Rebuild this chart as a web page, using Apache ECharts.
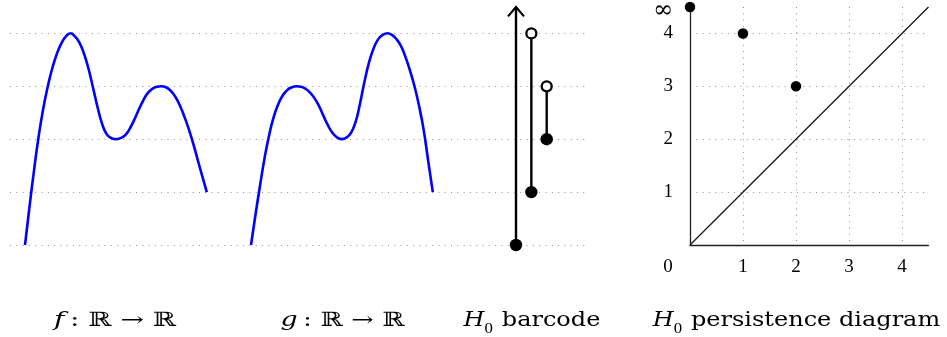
<!DOCTYPE html>
<html>
<head>
<meta charset="utf-8">
<script src="https://cdn.jsdelivr.net/npm/echarts@6/dist/echarts.min.js"></script>
<style>
html,body{margin:0;padding:0;background:#fff;}
#c{width:947px;height:337px;}
</style>
</head>
<body>
<div id="c"></div>
<script>
// ---- data ----
const levels = [0, 1, 2, 3, 4];            // dotted guide levels
const sampleX = [0, 0.1, 0.2, 0.3, 0.4, 0.5, 0.6, 0.7, 0.8, 0.9, 1.0, 1.1, 1.2, 1.3, 1.4, 1.5, 1.6, 1.7, 1.8, 1.9, 2.0,
                 2.1, 2.2, 2.3, 2.4, 2.5, 2.6, 2.7, 2.8, 2.9, 3.0, 3.1, 3.2, 3.3, 3.4, 3.5, 3.6, 3.7, 3.8, 3.9, 4.0];
const fY = [0, 0.73, 1.42, 2.05, 2.57, 2.99, 3.34, 3.61, 3.81, 3.94, 4.0,
            3.94, 3.82, 3.61, 3.32, 2.96, 2.59, 2.28, 2.09, 2.02, 2.0,
            2.02, 2.07, 2.19, 2.36, 2.55, 2.73, 2.87, 2.95, 2.99, 3.0,
            2.98, 2.92, 2.81, 2.65, 2.44, 2.2, 1.92, 1.61, 1.3, 1.0];
const gY = [0, 0.58, 1.13, 1.65, 2.08, 2.42, 2.66, 2.83, 2.93, 2.98, 3.0,
            2.99, 2.95, 2.88, 2.77, 2.62, 2.43, 2.25, 2.11, 2.03, 2.0,
            2.03, 2.12, 2.32, 2.68, 3.1, 3.46, 3.72, 3.89, 3.97, 4.0,
            3.97, 3.89, 3.76, 3.55, 3.29, 2.99, 2.62, 2.17, 1.58, 1.0];
const barIndex = [0, 1, 2];
const barBirth = [0, 1, 2];
const barDeath = [Infinity, 4, 3];
const pdBirth = [0, 1, 2];
const pdDeath = [Infinity, 4, 3];
const pdTicks = [0, 1, 2, 3, 4];
const titles = ['{it|f}\u2009: ℝ → ℝ', '{it|g}\u2009: ℝ → ℝ', '{it|H}{sub|0} barcode', '{it|H}{sub|0} persistence diagram'];
const INF_LEVEL = 4.5;  // where ∞ sits on the level axis

// ---- chart ----
const chart = echarts.init(document.getElementById('c'), null, {renderer: 'canvas'});
const dotted = {color: '#8f8f8f', width: 1, type: [1, 5.3]};
const hiddenAxis = (gi, min, max) => ({gridIndex: gi, type: 'value', min, max, show: false});
const tickFont = {fontFamily: 'Liberation Serif', fontSize: 19, color: '#000'};
const mkGrid = (left, top, width, height) => ({left, top, width, height, containLabel: false, outerBoundsMode: 'none'});

const option = {
  animation: false,
  backgroundColor: '#fff',
  grid: [
    mkGrid(10, 33.3, 575, 211.7),      // guide dotted lines
    mkGrid(25, 33.3, 181.8, 211.7),    // f
    mkGrid(251, 33.3, 181.8, 211.7),   // g
    mkGrid(516, 7, 30.7, 238),         // barcode
    mkGrid(690, 7, 238.5, 238)         // persistence diagram
  ],
  xAxis: [
    hiddenAxis(0, 0, 1),
    hiddenAxis(1, 0, 4),
    hiddenAxis(2, 0, 4),
    hiddenAxis(3, 0, 2),
    {
      gridIndex: 4, type: 'value', min: 0, max: INF_LEVEL, interval: 1,
      axisLine: {show: true, onZero: false, lineStyle: {color: '#222', width: 1.3}},
      axisTick: {show: false},
      axisLabel: {
        show: true, margin: 13, showMinLabel: true, showMaxLabel: false, hideOverlap: false,
        ...tickFont,
        formatter: v => (v === 0 ? '{z|0}' : (pdTicks.includes(v) ? String(v) : '')),
        rich: {z: {...tickFont, padding: [0, 44, 0, 0]}}
      },
      splitLine: {show: true, showMinLine: false, showMaxLine: false, lineStyle: dotted}
    }
  ],
  yAxis: [
    {
      gridIndex: 0, type: 'value', min: 0, max: 4, interval: 1,
      axisLine: {show: false}, axisTick: {show: false}, axisLabel: {show: false},
      splitLine: {show: true, lineStyle: dotted}
    },
    hiddenAxis(1, 0, 4),
    hiddenAxis(2, 0, 4),
    hiddenAxis(3, 0, INF_LEVEL),
    {
      gridIndex: 4, type: 'value', min: 0, max: INF_LEVEL, interval: 1,
      axisLine: {show: true, onZero: false, lineStyle: {color: '#222', width: 1.3}},
      axisTick: {show: false},
      axisLabel: {
        show: true, margin: 17, showMinLabel: true, showMaxLabel: true, hideOverlap: false,
        ...tickFont,
        formatter: v => (v === INF_LEVEL ? '{inf|∞}' : (v !== 0 && pdTicks.includes(v) ? String(v) : '')),
        rich: {inf: {fontFamily: 'DejaVu Serif', fontSize: 24, color: '#000', padding: [7, 0, 0, 0]}}
      },
      splitLine: {show: true, showMinLine: false, showMaxLine: false, lineStyle: dotted}
    }
  ],
  series: [
    {
      type: 'line', xAxisIndex: 1, yAxisIndex: 1, smooth: 0.5, symbol: 'none', clip: false,
      lineStyle: {color: '#0000ff', width: 2.6},
      data: sampleX.map((x, i) => [x, fY[i]])
    },
    {
      type: 'line', xAxisIndex: 2, yAxisIndex: 2, smooth: 0.5, symbol: 'none', clip: false,
      lineStyle: {color: '#0000ff', width: 2.6},
      data: sampleX.map((x, i) => [x, gY[i]])
    },
    {
      type: 'custom', xAxisIndex: 3, yAxisIndex: 3, clip: false,
      data: barIndex.map(i => [i, barBirth[i], isFinite(barDeath[i]) ? barDeath[i] : INF_LEVEL, isFinite(barDeath[i]) ? 0 : 1]),
      renderItem: (params, api) => {
        const x = api.value(0), b = api.value(1), d = api.value(2), inf = api.value(3);
        const p0 = api.coord([x, b]), p1 = api.coord([x, d]);
        const children = [
          {type: 'line', shape: {x1: p0[0], y1: p0[1], x2: p1[0], y2: p1[1]}, style: {stroke: '#000', lineWidth: 2.4}}
        ];
        if (inf) {
          children.push({type: 'polyline', shape: {points: [[p1[0] - 8, p1[1] + 9.4], [p1[0], p1[1]], [p1[0] + 8, p1[1] + 9.4]]},
            style: {stroke: '#000', lineWidth: 2.2, fill: 'none'}});
        } else {
          children.push({type: 'circle', shape: {cx: p1[0], cy: p1[1], r: 5}, style: {fill: '#fff', stroke: '#000', lineWidth: 2.3}});
        }
        children.push({type: 'circle', shape: {cx: p0[0], cy: p0[1], r: 6.2}, style: {fill: '#000'}});
        return {type: 'group', children};
      }
    },
    {
      type: 'line', xAxisIndex: 4, yAxisIndex: 4, symbol: 'none', clip: false,
      lineStyle: {color: '#111', width: 1.2},
      data: [[0, 0], [INF_LEVEL, INF_LEVEL]]
    },
    {
      type: 'scatter', xAxisIndex: 4, yAxisIndex: 4, clip: false, symbol: 'circle', symbolSize: 10.5,
      itemStyle: {color: '#000', opacity: 1}, z: 5,
      data: pdBirth.map((b, i) => [b, isFinite(pdDeath[i]) ? pdDeath[i] : INF_LEVEL])
    }
  ],
  graphic: titles.map((t, i) => ({
    type: 'text',
    x: [115, 342.5, 532, 796.5][i],
    y: 321,
    scaleX: [1.4, 1.34, 1.2, 1.2][i],
    style: {
      text: t,
      font: '20px "DejaVu Serif"',
      fill: '#000',
      align: 'center',
      verticalAlign: 'middle',
      rich: {
        it: {fontStyle: 'italic', fontFamily: 'DejaVu Serif', fontSize: 20},
        sub: {fontFamily: 'Liberation Serif', fontSize: 14, padding: [16, 1, 0, 0]}
      }
    }
  }))
};
chart.setOption(option);
</script>
</body>
</html>
